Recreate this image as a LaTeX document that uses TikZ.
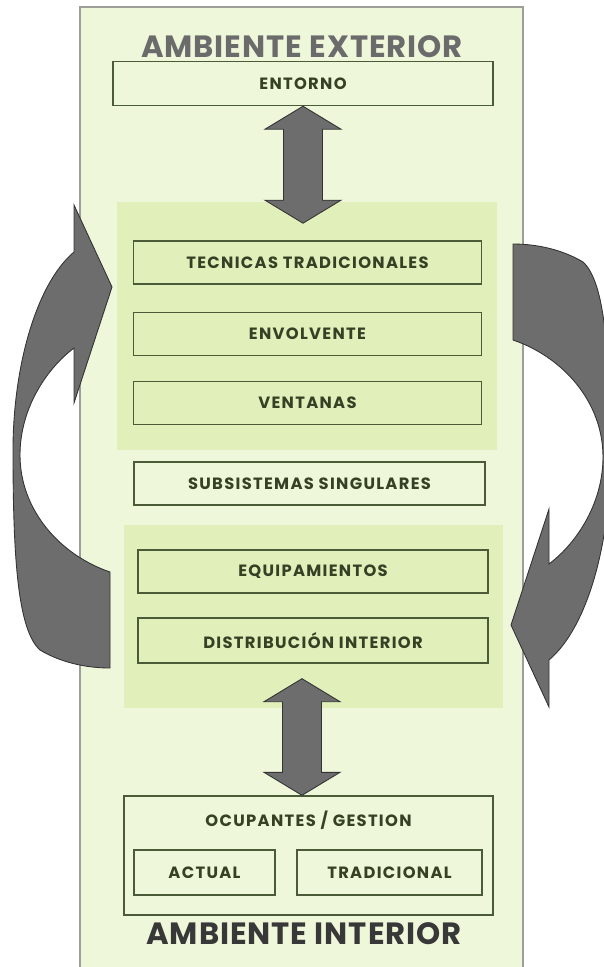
\documentclass[tikz,border=0pt]{standalone}
\usepackage{fontspec}
\setmainfont{Poppins}
\newfontfamily\lblfont[LetterSpace=8]{Poppins}
\newfontfamily\ttlfont[LetterSpace=3]{Poppins}
\usetikzlibrary{calc,fit}

\definecolor{colbg}{HTML}{EEF7DA}
\definecolor{panelbg}{HTML}{E1F0BA}
\definecolor{boxline}{HTML}{4B5A37}
\definecolor{boxtext}{HTML}{354025}
\definecolor{arrowgray}{HTML}{6D6D6D}
\definecolor{colline}{HTML}{9C9E98}

% block arrow with a head at both ends
\newcommand{\dblarrow}[2]{%
  \filldraw[blockarrow] (#1) -- ++(38,23) -- ++(-18.5,0)
    -- ($(#2)+(19.5,-23)$) -- ($(#2)+(38,-23)$) -- (#2)
    -- ($(#2)+(-38,-23)$) -- ($(#2)+(-19.5,-23)$)
    -- ($(#1)+(-19.5,23)$) -- ($(#1)+(-38,23)$) -- cycle;}

% curved arrow, tail at the bottom right, head at the top right
\newcommand{\bentarrow}[1]{%
  \filldraw[blockarrow,#1] (110,668) -- (110,572)
    .. controls (60,555) and (20,510) .. (20,455)
    .. controls (20,410) and (45,370) .. (74,348)
    -- (74,403) -- (112,287) -- (74,205) -- (74,252)
    .. controls (35,285) and (13,370) .. (13,450)
    .. controls (13,560) and (18,630) .. (40,650)
    .. controls (60,662) and (85,668) .. (110,668) -- cycle;}

\begin{document}
\begin{tikzpicture}[x=0.02cm, y=-0.02cm,
    blockarrow/.style={fill=arrowgray, draw=black!80, line width=0.5pt},
    panel/.style={fill=panelbg, draw=none, inner sep=0pt},
    label/.style={text=boxtext, font=\lblfont\bfseries\fontsize{9.3}{11}\selectfont},
    item/.style={label, draw=boxline, line width=0.8pt, minimum height=0.86cm},
    title/.style={font=\ttlfont\bfseries\fontsize{17.5}{20}\selectfont}]
\useasboundingbox (0,0) rectangle (604,967);
\clip (0,0) rectangle (604,967);

% Background column
\fill[colbg] (80,7) rectangle (523,967);
\draw[colline, line width=0.8pt] (80,967) -- (80,7) -- (523,7) -- (523,967);

% Curved arrows on both sides
\bentarrow{}
\bentarrow{rotate around={180:(311.5,456)}}

% Green panels
\node[panel, fit={(117,202) (497,450)}] (grpA) {};
\node[panel, fit={(124,525) (503,708)}] (grpB) {};

% Titles
\node[title, text=black!58] (ext) at (302,47) {AMBIENTE EXTERIOR};
\node[title, text=black!78] (int) at (304,934) {AMBIENTE INTERIOR};

% Boxes
\node[item, fill=colbg, minimum width=7.6cm, minimum height=0.88cm] (entorno) at (303,83.5) {ENTORNO};
\node[item, fill=panelbg, minimum width=6.96cm] (tecnicas) at (307.5,262.5) {TECNICAS TRADICIONALES};
\node[item, fill=panelbg, minimum width=6.96cm] (envol) at (307.5,334) {ENVOLVENTE};
\node[item, fill=panelbg, minimum width=6.96cm] (vent) at (307.5,403) {VENTANAS};
\node[item, fill=colbg, minimum width=7.02cm] (subsis) at (309.5,483.5) {SUBSISTEMAS SINGULARES};
\node[item, fill=panelbg, minimum width=7.0cm] (equip) at (313,571.5) {EQUIPAMIENTOS};
\node[item, fill=panelbg, minimum width=7.0cm, minimum height=0.9cm] (distrib) at (313,640.5) {DISTRIBUCIÓN INTERIOR};
\node[item, fill=colbg, minimum width=7.38cm, minimum height=2.38cm] (ocup) at (308.5,855.5) {};
\node[label] (gestion) at (308.5,820) {OCUPANTES / GESTION};
\node[item, fill=colbg, minimum width=2.82cm, minimum height=0.9cm] (actual) at (204.5,872.5) {ACTUAL};
\node[item, fill=colbg, minimum width=3.7cm, minimum height=0.9cm] (trad) at (389.5,872.5) {TRADICIONAL};

% Straight arrows
\coordinate (a1s) at (entorno.south);
\coordinate (a1e) at ($(a1s)+(0,117)$);
\dblarrow{a1s}{a1e}
\coordinate (a2s) at ($(distrib.south)+(-11,15)$);
\coordinate (a2e) at ($(ocup.north)+(-6.5,0)$);
\dblarrow{a2s}{a2e}
\end{tikzpicture}
\end{document}
